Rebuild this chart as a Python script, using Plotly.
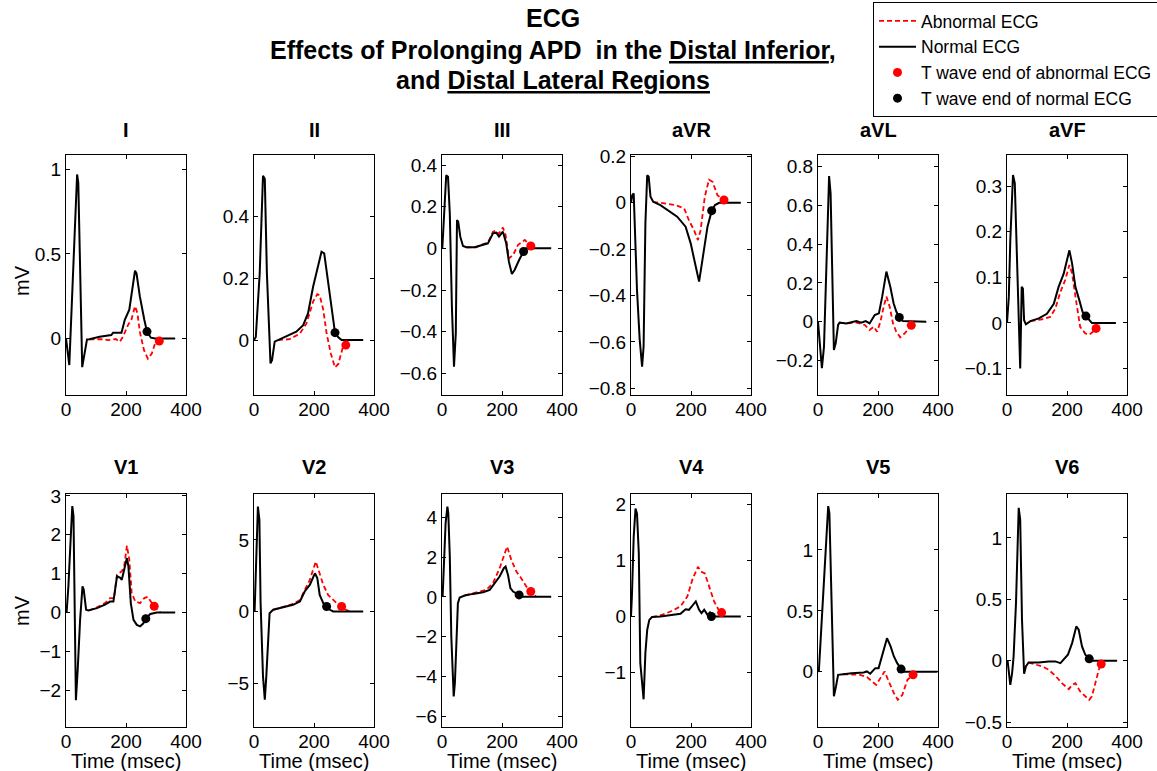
import plotly.graph_objects as go

# ---------------- data (time in msec, voltage in mV) ----------------
leads = ["I", "II", "III", "aVR", "aVL", "aVF", "V1", "V2", "V3", "V4", "V5", "V6"]

# Lead I
I_qrs_t = [0, 11, 37, 41, 54, 70, 78]
I_qrs_v = [0, -0.158, 0.97, 0.92, -0.17, -0.006, -0.005]
I_norm_t = [112, 151, 157, 185, 196, 211, 218, 230, 235, 246, 261, 270, 283, 297, 364]
I_norm_v = [0.01, 0.02, 0.034, 0.034, 0.11, 0.17, 0.25, 0.40, 0.385, 0.25, 0.11, 0.04, 0.004, 0, 0]
I_abn_t = [95, 123, 140, 166, 179, 190, 207, 218, 230, 238, 246, 260, 273, 286, 297, 311, 320]
I_abn_v = [-0.005, -0.005, -0.01, -0.004, -0.02, 0.01, 0.08, 0.11, 0.19, 0.15, 0.04, -0.07, -0.12, -0.09, -0.03, -0.016, 0]
I_tend_norm = [270, 0.04]
I_tend_abn = [311, -0.016]

# Lead II
II_qrs_t = [0, 6, 19, 30, 36, 43, 55, 60, 69, 80]
II_qrs_v = [0, 0.01, 0.215, 0.53, 0.52, 0.215, -0.075, -0.065, -0.005, 0]
II_norm_t = [108, 141, 164, 180, 197, 214, 225, 234, 247, 261, 270, 281, 292, 364]
II_norm_v = [0.011, 0.027, 0.048, 0.086, 0.172, 0.242, 0.285, 0.28, 0.183, 0.075, 0.024, 0.009, 0, 0]
II_abn_t = [119, 153, 175, 197, 211, 219, 231, 242, 256, 270, 281, 295, 306, 318, 325]
II_abn_v = [0.003, 0.021, 0.054, 0.124, 0.148, 0.145, 0.097, 0.022, -0.043, -0.088, -0.077, -0.027, -0.016, -0.003, 0]
II_tend_norm = [270, 0.024]
II_tend_abn = [306, -0.016]

# Lead III
III_qrs_t = [1, 7, 14, 20, 26, 33, 40, 46, 50, 54, 61, 70, 81]
III_qrs_v = [0, 0.2, 0.35, 0.344, 0.168, -0.28, -0.568, -0.408, 0.136, 0.128, 0.056, 0.011, 0.005]
III_norm_t = [109, 137, 153, 170, 181, 190, 203, 214, 223, 233, 242, 257, 272, 281, 364]
III_norm_v = [0.005, 0.016, 0.024, 0.072, 0.075, 0.056, 0.08, 0.024, -0.064, -0.123, -0.104, -0.056, -0.015, 0, 0]
III_abn_t = [114, 137, 153, 170, 179, 189, 203, 212, 223, 237, 253, 276, 287, 296, 303]
III_abn_v = [0.005, 0.02, 0.027, 0.08, 0.085, 0.069, 0.1, 0.064, -0.048, -0.032, 0.016, 0.04, 0.024, 0.011, 0]
III_tend_norm = [272, -0.015]
III_tend_abn = [296, 0.011]

# Lead aVR
aVR_qrs_t = [0, 4, 9, 12, 20, 29, 37, 42, 48, 54, 59, 65, 74]
aVR_qrs_v = [0, 0.033, 0.04, -0.089, -0.376, -0.59, -0.707, -0.62, -0.089, 0.119, 0.112, 0.026, 0.004]
aVR_norm_t = [98, 132, 154, 182, 199, 216, 227, 238, 255, 269, 280, 294, 366]
aVR_norm_v = [-0.01, -0.039, -0.06, -0.103, -0.175, -0.276, -0.34, -0.247, -0.103, -0.034, -0.01, 0, 0]
aVR_abn_t = [121, 149, 177, 193, 210, 223, 232, 246, 260, 272, 288, 310, 322]
aVR_abn_v = [-0.003, -0.01, -0.024, -0.075, -0.118, -0.161, -0.118, 0.026, 0.1, 0.09, 0.033, 0.012, 0]
aVR_tend_norm = [269, -0.034]
aVR_tend_abn = [310, 0.012]

# Lead aVL
aVL_qrs_t = [0, 6, 13, 20, 28, 37, 42, 48, 53, 59, 67, 72]
aVL_qrs_v = [0, -0.095, -0.24, -0.129, 0.25, 0.75, 0.66, 0.25, -0.146, -0.112, -0.017, -0.005]
aVL_norm_t = [94, 128, 144, 159, 172, 189, 203, 214, 228, 241, 252, 261, 271, 283, 361]
aVL_norm_v = [-0.009, 0.003, -0.005, 0.003, -0.009, 0.034, 0.043, 0.129, 0.258, 0.18, 0.095, 0.052, 0.022, 0.003, 0]
aVL_abn_t = [94, 128, 156, 172, 186, 197, 208, 219, 228, 239, 250, 261, 274, 289, 311, 322]
aVL_abn_v = [-0.009, -0.005, -0.017, -0.043, -0.026, -0.052, 0, 0.077, 0.129, 0.077, -0.009, -0.052, -0.081, -0.06, -0.019, -0.005]
aVL_tend_norm = [271, 0.022]
aVL_tend_abn = [311, -0.019]

# Lead aVF
aVF_qrs_t = [0, 6, 11, 20, 26, 31, 39, 44, 49, 53, 57, 63, 78]
aVF_qrs_v = [0, 0.057, 0.181, 0.324, 0.306, 0.181, -0.009, -0.1, 0.079, 0.075, 0.006, -0.003, 0.004]
aVF_norm_t = [106, 133, 156, 172, 189, 200, 208, 217, 228, 241, 252, 263, 274, 283, 363]
aVF_norm_v = [0.01, 0.02, 0.042, 0.079, 0.108, 0.138, 0.159, 0.13, 0.079, 0.05, 0.024, 0.015, 0.006, 0, 0]
aVF_abn_t = [117, 144, 161, 178, 194, 208, 217, 230, 244, 261, 274, 289, 297, 311]
aVF_abn_v = [0.008, 0.013, 0.031, 0.068, 0.094, 0.127, 0.108, 0.05, -0.009, -0.023, -0.026, -0.018, -0.012, -0.001]
aVF_tend_norm = [263, 0.015]
aVF_tend_abn = [297, -0.012]

# Lead V1
V1_qrs_t = [2, 8, 16, 21, 25, 28, 33, 39, 47, 55, 59, 67, 75]
V1_qrs_v = [0, 0.67, 1.97, 2.74, 2.48, 0.24, -2.26, -1.48, -0.19, 0.67, 0.59, 0.07, 0.05]
V1_norm_t = [103, 130, 147, 158, 170, 181, 186, 194, 203, 208, 216, 225, 236, 247, 258, 266, 281, 303, 364]
V1_norm_v = [0.11, 0.2, 0.28, 0.28, 0.93, 0.89, 0.84, 1.1, 1.4, 1.19, 0.24, -0.19, -0.32, -0.36, -0.28, -0.16, -0.04, 0, 0]
V1_abn_t = [103, 130, 147, 160, 170, 186, 194, 203, 211, 219, 231, 247, 261, 272, 283, 294, 309, 316]
V1_abn_v = [0.13, 0.24, 0.37, 0.37, 0.97, 1.06, 1.19, 1.72, 1.36, 0.5, 0.28, 0.24, 0.37, 0.4, 0.28, 0.16, 0.03, 0]
V1_tend_norm = [266, -0.16]
V1_tend_abn = [294, 0.16]

# Lead V2
V2_qrs_t = [2, 8, 13, 18, 22, 30, 36, 41, 47, 52, 64]
V2_qrs_v = [0, 4.07, 7.33, 6.4, 0.58, -4.53, -6.16, -4.53, -1.74, -0.12, 0.12]
V2_norm_t = [91, 130, 153, 169, 186, 203, 211, 219, 231, 242, 253, 264, 364]
V2_norm_v = [0.28, 0.47, 0.7, 1.4, 1.86, 2.67, 2.33, 1.16, 0.58, 0.35, 0.12, 0, 0]
V2_abn_t = [97, 130, 153, 169, 186, 206, 217, 231, 247, 264, 281, 292, 303, 320]
V2_abn_v = [0.35, 0.53, 0.81, 1.51, 2.21, 3.49, 2.79, 1.86, 1.16, 0.81, 0.47, 0.35, 0.16, 0]
V2_tend_norm = [242, 0.35]
V2_tend_abn = [292, 0.35]

# Lead V3
V3_qrs_t = [2, 7, 12, 18, 21, 26, 31, 39, 43, 48, 53, 59, 76]
V3_qrs_v = [0, 2.19, 3.7, 4.54, 4.2, 2.03, -1.99, -5.0, -4.33, -2.33, -0.32, -0.03, 0.07]
V3_norm_t = [103, 137, 159, 176, 192, 206, 212, 220, 228, 237, 248, 257, 268, 364]
V3_norm_v = [0.15, 0.23, 0.35, 0.69, 1.02, 1.44, 1.52, 1.1, 0.44, 0.27, 0.18, 0.1, 0, 0]
V3_abn_t = [114, 148, 170, 192, 217, 231, 248, 264, 281, 296, 307, 314]
V3_abn_v = [0.22, 0.35, 0.69, 1.44, 2.53, 1.86, 1.27, 0.94, 0.52, 0.27, 0.1, 0]
V3_tend_norm = [257, 0.1]
V3_tend_abn = [296, 0.27]

# Lead V4
V4_qrs_t = [0, 3, 9, 15, 20, 26, 31, 38, 42, 48, 54, 61, 70]
V4_qrs_v = [0, 0.36, 1.42, 1.93, 1.84, 1.13, -0.83, -1.31, -1.48, -0.65, -0.24, -0.06, -0.01]
V4_norm_t = [98, 132, 165, 182, 193, 204, 216, 227, 235, 244, 255, 263, 268, 366]
V4_norm_v = [0, 0.02, 0.05, 0.13, 0.12, 0.19, 0.27, 0.12, 0.06, 0.12, 0.03, 0.07, 0, 0]
V4_abn_t = [98, 132, 165, 188, 204, 223, 235, 246, 260, 277, 291, 302, 313]
V4_abn_v = [0.02, 0.09, 0.18, 0.36, 0.65, 0.89, 0.8, 0.77, 0.53, 0.27, 0.13, 0.07, 0]
V4_tend_norm = [268, 0]
V4_tend_abn = [302, 0.07]

# Lead V5
V5_qrs_t = [0, 3, 20, 34, 38, 45, 53, 60, 67, 84]
V5_qrs_v = [0, 0.01, 0.75, 1.36, 1.3, 0.56, -0.2, -0.12, -0.025, -0.02]
V5_norm_t = [112, 152, 163, 174, 191, 202, 213, 230, 242, 253, 264, 277, 287, 398]
V5_norm_v = [-0.011, -0.005, 0.003, -0.016, 0.03, 0.03, 0.126, 0.276, 0.208, 0.126, 0.071, 0.022, 0, 0]
V5_abn_t = [112, 140, 163, 180, 194, 208, 222, 236, 253, 266, 281, 298, 317, 326]
V5_abn_v = [-0.025, -0.025, -0.044, -0.08, -0.107, -0.052, 0.003, -0.08, -0.175, -0.23, -0.19, -0.066, -0.025, -0.005]
V5_tend_norm = [277, 0.022]
V5_tend_abn = [317, -0.025]

# Lead V6
V6_qrs_t = [2, 6, 11, 17, 22, 30, 39, 44, 50, 57, 63, 72]
V6_qrs_v = [0, -0.1, -0.196, -0.1, 0.035, 0.47, 1.245, 1.15, 0.334, -0.106, -0.046, -0.014]
V6_norm_t = [106, 139, 161, 178, 189, 203, 217, 231, 239, 250, 261, 274, 283, 367]
V6_norm_v = [-0.014, -0.005, -0.005, -0.019, 0.014, 0.049, 0.144, 0.28, 0.253, 0.117, 0.049, 0.016, 0, 0]
V6_abn_t = [94, 117, 139, 161, 183, 206, 217, 228, 244, 261, 274, 283, 294, 306, 314, 322]
V6_abn_v = [-0.027, -0.046, -0.073, -0.122, -0.182, -0.231, -0.196, -0.182, -0.25, -0.29, -0.318, -0.29, -0.182, -0.073, -0.027, -0.005]
V6_tend_norm = [274, 0.016]
V6_tend_abn = [314, -0.027]

# axis limits and ticks
y_ranges = [[-0.335, 1.085], [-0.177, 0.597], [-0.704, 0.448], [-0.829, 0.206],
            [-0.378, 0.859], [-0.158, 0.368], [-2.95, 3.05], [-8.07, 8.21],
            [-6.54, 5.17], [-1.975, 2.19], [-0.453, 1.459], [-0.539, 1.358]]
y_ticks = [[0, 0.5, 1], [0, 0.2, 0.4], [-0.6, -0.4, -0.2, 0, 0.2, 0.4],
           [-0.8, -0.6, -0.4, -0.2, 0, 0.2], [-0.2, 0, 0.2, 0.4, 0.6, 0.8],
           [-0.1, 0, 0.1, 0.2, 0.3], [-2, -1, 0, 1, 2, 3], [-5, 0, 5],
           [-6, -4, -2, 0, 2, 4], [-1, 0, 1, 2], [0, 0.5, 1], [-0.5, 0, 0.5, 1]]
x_ticks = [0, 200, 400]
x_range = [0, 400]

title_lines = ["<b>ECG</b>",
               "<b>Effects of Prolonging APD  in the <u>Distal Inferior</u>,</b>",
               "<b>and <u>Distal Lateral Regions</u></b>"]

data = {
    "I": (I_qrs_t, I_qrs_v, I_norm_t, I_norm_v, I_abn_t, I_abn_v, I_tend_norm, I_tend_abn),
    "II": (II_qrs_t, II_qrs_v, II_norm_t, II_norm_v, II_abn_t, II_abn_v, II_tend_norm, II_tend_abn),
    "III": (III_qrs_t, III_qrs_v, III_norm_t, III_norm_v, III_abn_t, III_abn_v, III_tend_norm, III_tend_abn),
    "aVR": (aVR_qrs_t, aVR_qrs_v, aVR_norm_t, aVR_norm_v, aVR_abn_t, aVR_abn_v, aVR_tend_norm, aVR_tend_abn),
    "aVL": (aVL_qrs_t, aVL_qrs_v, aVL_norm_t, aVL_norm_v, aVL_abn_t, aVL_abn_v, aVL_tend_norm, aVL_tend_abn),
    "aVF": (aVF_qrs_t, aVF_qrs_v, aVF_norm_t, aVF_norm_v, aVF_abn_t, aVF_abn_v, aVF_tend_norm, aVF_tend_abn),
    "V1": (V1_qrs_t, V1_qrs_v, V1_norm_t, V1_norm_v, V1_abn_t, V1_abn_v, V1_tend_norm, V1_tend_abn),
    "V2": (V2_qrs_t, V2_qrs_v, V2_norm_t, V2_norm_v, V2_abn_t, V2_abn_v, V2_tend_norm, V2_tend_abn),
    "V3": (V3_qrs_t, V3_qrs_v, V3_norm_t, V3_norm_v, V3_abn_t, V3_abn_v, V3_tend_norm, V3_tend_abn),
    "V4": (V4_qrs_t, V4_qrs_v, V4_norm_t, V4_norm_v, V4_abn_t, V4_abn_v, V4_tend_norm, V4_tend_abn),
    "V5": (V5_qrs_t, V5_qrs_v, V5_norm_t, V5_norm_v, V5_abn_t, V5_abn_v, V5_tend_norm, V5_tend_abn),
    "V6": (V6_qrs_t, V6_qrs_v, V6_norm_t, V6_norm_v, V6_abn_t, V6_abn_v, V6_tend_norm, V6_tend_abn),
}

# ---------------- layout geometry (pixels) ----------------
W, H = 1157, 771
FONT = "Liberation Sans, Arial, Helvetica, sans-serif"
col_left = [66, 254, 442, 631, 818, 1007]
PW = 120
row_box = [(155, 395), (494, 727)]
row_title_y = [130, 467]
title_line_y = [18, 50, 80]
TICK_SIZE = 19

fig = go.Figure()
annotations = []
layout_axes = {}

for i, lead in enumerate(leads):
    r, c = divmod(i, 6)
    n = i + 1
    xa = "x" if n == 1 else f"x{n}"
    ya = "y" if n == 1 else f"y{n}"
    qt, qv, nt, nv, at, av, tn, ta = data[lead]
    first = i == 0

    fig.add_trace(go.Scatter(
        x=[qt[-1]] + at, y=[qv[-1]] + av, mode="lines", name="Abnormal ECG",
        legendgroup="abn", showlegend=first,
        line=dict(color="#ff0000", width=1.8, dash="5px,3px"),
        xaxis=xa, yaxis=ya))
    fig.add_trace(go.Scatter(
        x=qt + nt, y=qv + nv, mode="lines", name="Normal ECG", legendgroup="norm",
        showlegend=first, line=dict(color="black", width=2),
        xaxis=xa, yaxis=ya))
    fig.add_trace(go.Scatter(
        x=[ta[0]], y=[ta[1]], mode="markers", name="T wave end of abnormal ECG",
        legendgroup="tabn", showlegend=first,
        marker=dict(color="#ff0000", size=9), xaxis=xa, yaxis=ya))
    fig.add_trace(go.Scatter(
        x=[tn[0]], y=[tn[1]], mode="markers", name="T wave end of normal ECG",
        legendgroup="tnorm", showlegend=first,
        marker=dict(color="black", size=9), xaxis=xa, yaxis=ya))

    left = col_left[c]
    top, bot = row_box[r]
    common = dict(showline=True, linecolor="black", linewidth=1, mirror="ticks",
                  ticks="inside", ticklen=4, tickcolor="black", tickwidth=1,
                  showgrid=False, zeroline=False,
                  tickfont=dict(family=FONT, size=TICK_SIZE, color="black"))
    layout_axes[f"xaxis{'' if n == 1 else n}"] = dict(
        domain=[left / W, (left + PW) / W], anchor=ya, range=x_range,
        tickvals=x_ticks, ticktext=[str(v) for v in x_ticks],
        ticklabelstandoff=-3, **common)
    layout_axes[f"yaxis{'' if n == 1 else n}"] = dict(
        domain=[(H - bot) / H, (H - top) / H], anchor=xa, range=y_ranges[i],
        tickvals=y_ticks[i], **common)

    annotations.append(dict(
        text=f"<b>{lead}</b>", x=(left + PW / 2) / W, y=(H - row_title_y[r]) / H,
        xref="paper", yref="paper", xanchor="center", yanchor="middle",
        showarrow=False, font=dict(family=FONT, size=20, color="black")))
    if r == 1:
        annotations.append(dict(
            text="Time (msec)", x=(left + PW / 2) / W, y=(H - 761) / H,
            xref="paper", yref="paper", xanchor="center", yanchor="middle",
            showarrow=False, font=dict(family=FONT, size=20, color="black")))

for yc in (280, 610):
    annotations.append(dict(
        text="mV", x=22 / W, y=(H - yc) / H, xref="paper", yref="paper",
        xanchor="center", yanchor="middle", textangle=-90, showarrow=False,
        font=dict(family=FONT, size=20, color="black")))

for line, yc in zip(title_lines, title_line_y):
    annotations.append(dict(
        text=line, x=553 / W, y=(H - yc) / H, xref="paper", yref="paper",
        xanchor="center", yanchor="middle", showarrow=False,
        font=dict(family=FONT, size=25, color="black")))

fig.update_layout(
    width=W, height=H, margin=dict(l=0, r=0, t=0, b=0, autoexpand=False),
    paper_bgcolor="white", plot_bgcolor="white",
    font=dict(family=FONT, color="black"),
    annotations=annotations,
    legend=dict(x=873 / W, y=1 - 2 / H, xanchor="left", yanchor="top",
                bordercolor="black", borderwidth=1, bgcolor="white",
                font=dict(family=FONT, size=17.5, color="black"),
                itemwidth=37, tracegroupgap=0),
    **layout_axes)

fig.write_html(
    "out.html",
    config={"displayModeBar": False},
    post_script="document.body.style.margin='0px';"
                "document.documentElement.style.overflow='hidden';")
